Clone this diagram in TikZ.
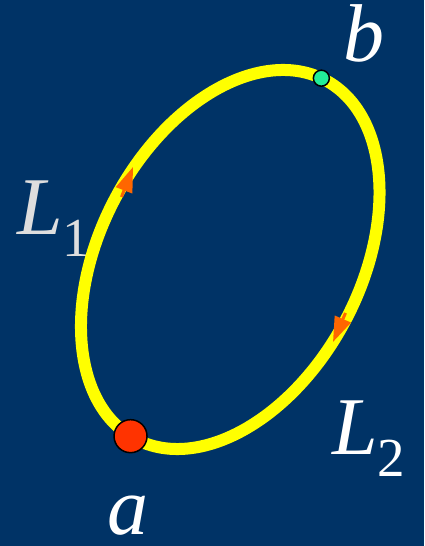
\documentclass[tikz,border=0pt]{standalone}
\usepackage{fontspec}
\setmainfont{Liberation Serif}
\usetikzlibrary{arrows.meta}
\definecolor{bgblue}{RGB}{0,51,102}
\definecolor{loopyellow}{RGB}{255,255,0}
\definecolor{dotred}{RGB}{255,51,0}
\definecolor{dotgreen}{RGB}{34,238,153}
\definecolor{arrorange}{RGB}{255,102,0}
\definecolor{lightlabel}{RGB}{222,222,222}
\tikzset{
  loopline/.style={draw=loopyellow, line width=12pt},
  pointdot/.style={circle, draw=black, line width=1.5pt, inner sep=0pt},
  dirarrow/.style={draw=arrorange, line width=3pt, -{Triangle[length=25pt,width=17pt]}},
  biglabel/.style={inner sep=0pt, anchor=base west, text=white, font=\fontsize{82}{82}\selectfont\itshape},
}
\newcommand{\subscr}[1]{{\fontsize{55}{55}\selectfont\upshape\raisebox{-22pt}{#1}}}
\begin{document}
\begin{tikzpicture}[x=1pt,y=1pt]
  \fill[bgblue] (0,0) rectangle (424,546);
  \useasboundingbox (0,0) rectangle (424,546);
  % labels (drawn first, the loop covers part of L1)
  \node[biglabel, text=lightlabel] (lone) at (17,311) {L\subscr{1}};
  \node[biglabel] (ltwo) at (332,91) {L\subscr{2}};
  \node[biglabel] (la) at (107,11) {a};
  \node[biglabel] (lb) at (343,484) {b};
  % the loop
  \coordinate (c) at (230.25,286.5);
  \begin{scope}[shift={(c)}, rotate=62.1]
    \draw[loopline] (0,0) ellipse [x radius=203, y radius=130.3];
    \coordinate (pa) at (177.6:203 and 130.3);
    \coordinate (pb) at (1.9:203 and 130.3);
  \end{scope}
  % direction arrows
  \coordinate (s1) at (121.5,349);
  \coordinate (t1) at (133,379);
  \coordinate (s2) at (345.5,233);
  \coordinate (t2) at (333,204);
  \draw[dirarrow] (s1) -- (t1);
  \draw[dirarrow] (s2) -- (t2);
  % points
  \node[pointdot, fill=dotred, minimum size=33pt] (a) at (pa) {};
  \node[pointdot, fill=dotgreen, minimum size=16pt] (b) at (pb) {};
\end{tikzpicture}
\end{document}
